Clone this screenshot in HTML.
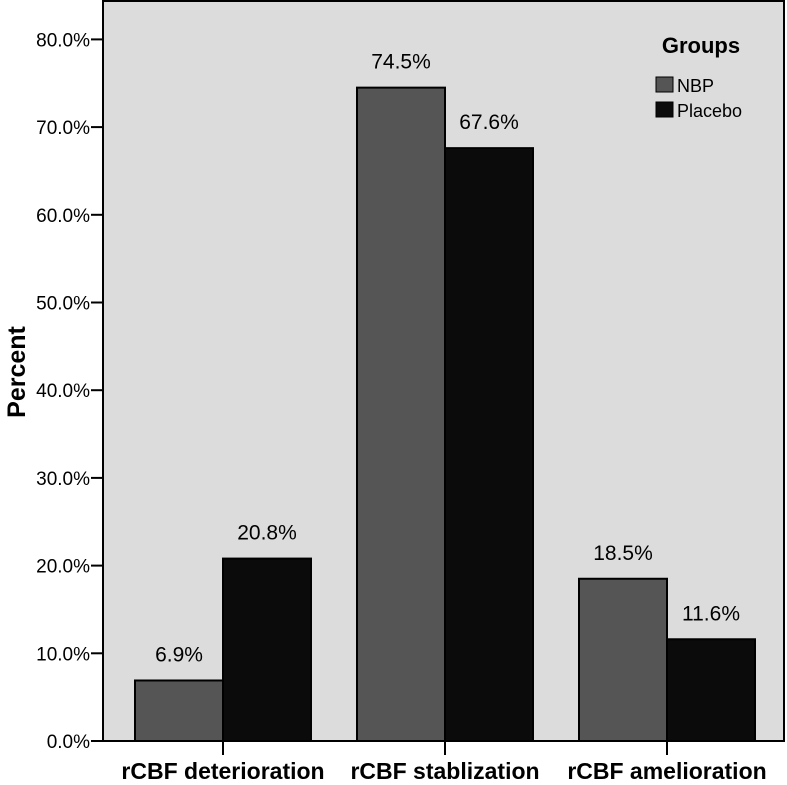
<!DOCTYPE html>
<html><head><meta charset="utf-8"><style>
body{margin:0;background:#fff;width:787px;height:780px;overflow:hidden}
text{font-family:"Liberation Sans",Arial,sans-serif}
</style></head><body>
<svg id="chart" width="787" height="780">
<rect x="103" y="1" width="681" height="740" fill="#dcdcdc" stroke="#000" stroke-width="2"/>
<g id="yaxis"></g><g id="bars"></g><g id="xaxis"></g>
<text x="0" y="0" transform="translate(25,372) rotate(-90)" text-anchor="middle" font-size="25" font-weight="bold">Percent</text>
<text x="701" y="53" text-anchor="middle" font-size="22" font-weight="bold">Groups</text>
<rect x="656" y="77" width="17" height="15" fill="#555" stroke="#000"/>
<text x="677" y="92" font-size="18">NBP</text>
<rect x="656" y="102" width="17" height="15" fill="#0b0b0b" stroke="#000"/>
<text x="677" y="117" font-size="18">Placebo</text>
</svg>
<script>
const categories=["rCBF deterioration","rCBF stablization","rCBF amelioration"];
const nbpValues=[6.9,74.5,18.5];
const placeboValues=[20.8,67.6,11.6];
const yTicks=[0,10,20,30,40,50,60,70,80];
const NS="http://www.w3.org/2000/svg";
function y(v){return 741-v*8.77;}
function xc(i){return 223+i*222;}
const BW=88;
function mk(tag,attrs,parent,txt){const e=document.createElementNS(NS,tag);for(const k in attrs)e.setAttribute(k,attrs[k]);if(txt!==undefined)e.textContent=txt;parent.appendChild(e);return e;}
const ya=document.getElementById('yaxis'),bg=document.getElementById('bars'),xa=document.getElementById('xaxis');
yTicks.forEach(t=>{
  const l=mk('line',{x1:91,x2:103,y1:y(t),y2:y(t),stroke:'#000','stroke-width':2},ya);
  
  
  const tx=mk('text',{x:90,y:y(t)+7,'text-anchor':'end','font-size':19},ya,t.toFixed(1)+'%');
  
  
});
categories.forEach((c,i)=>{
  [[nbpValues[i],'#555',-BW,'nbp'],[placeboValues[i],'#0b0b0b',0,'placebo']].forEach(([v,col,off,nm])=>{
    const r=mk('rect',{x:xc(i)+off,y:y(v),width:BW,height:741-y(v),fill:col,stroke:'#000','stroke-width':2},bg);
    
    
    const t=mk('text',{x:xc(i)+off+BW/2,y:y(v)-19,'text-anchor':'middle','font-size':21},bg,v.toFixed(1)+'%');
    
    
  });
  const tk=mk('line',{x1:xc(i),x2:xc(i),y1:741,y2:755,stroke:'#000','stroke-width':2},xa);
  
  
  const lb=mk('text',{x:xc(i),y:779,'text-anchor':'middle','font-size':23,'font-weight':'bold'},xa,c);
  
  
});
</script>
</body></html>
